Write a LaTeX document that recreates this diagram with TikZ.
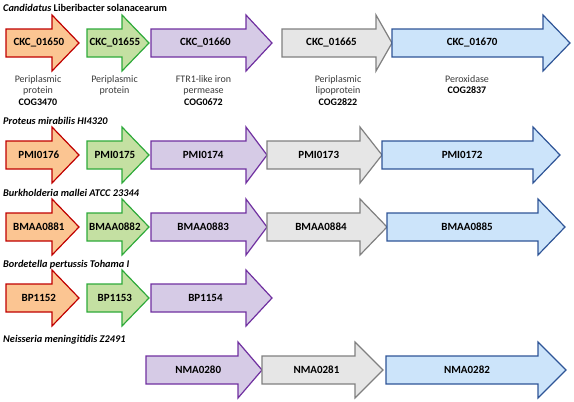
\documentclass[tikz,border=0pt]{standalone}
\usepackage{fontspec}
\setmainfont{Carlito}
\definecolor{orfill}{HTML}{FBC592}
\definecolor{ordraw}{HTML}{C00000}
\definecolor{grfill}{HTML}{C4E0A2}
\definecolor{grdraw}{HTML}{2EAA3A}
\definecolor{pufill}{HTML}{D6CBE6}
\definecolor{pudraw}{HTML}{7030A0}
\definecolor{gyfill}{HTML}{E6E6E6}
\definecolor{gydraw}{HTML}{808080}
\definecolor{blfill}{HTML}{CCE4FA}
\definecolor{bldraw}{HTML}{2F5597}
\definecolor{desc}{HTML}{3A3A3A}
\tikzset{
  garrow/.style={line width=1.2pt, line join=miter},
  orange/.style={garrow, fill=orfill, draw=ordraw},
  green/.style={garrow, fill=grfill, draw=grdraw},
  purple/.style={garrow, fill=pufill, draw=pudraw},
  grey/.style={garrow, fill=gyfill, draw=gydraw},
  blue/.style={garrow, fill=blfill, draw=bldraw},
  genelabel/.style={font=\fontsize{11}{13}\selectfont\bfseries, inner sep=0pt},
  title/.style={font=\fontsize{10.3}{12}\selectfont\bfseries, anchor=west, inner sep=0pt},
  desctext/.style={font=\fontsize{10}{11.8}\selectfont, text=desc, align=center, anchor=north, inner sep=0pt},
}
\newcommand\gene[7]{%
  \draw[#2] ({#3},{#6-14}) -- ({#4},{#6-14}) -- ({#4},{#6-28}) -- ({#5},{#6})
    -- ({#4},{#6+28}) -- ({#4},{#6+14}) -- ({#3},{#6+14}) -- cycle;
  \node[genelabel] (#1) at ({#3+0.45*(#5-#3)},{#6}) {#7};
}
\begin{document}
\begin{tikzpicture}[x=1pt,y=-1pt]
\useasboundingbox (0,0) rectangle (574,402);
% Row 1
\node[title] (t1) at (3,8) {\textit{Candidatus} Liberibacter solanacearum};
\gene{a1}{orange}{6}{52}{79}{43}{CKC\_01650}
\gene{a2}{green}{87}{122}{149}{43}{CKC\_01655}
\gene{a3}{purple}{151}{246}{272}{43}{CKC\_01660}
\gene{a4}{grey}{282}{376}{392}{43}{CKC\_01665}
\gene{a5}{blue}{392}{543}{570}{43}{CKC\_01670}
\node[desctext] (d1) at (38,75) {Periplasmic\\protein\\\textcolor{black}{\bfseries COG3470}};
\node[desctext] (d2) at (114.5,75) {Periplasmic\\protein};
\node[desctext] (d3) at (203.5,75) {FTR1-like iron\\permease\\\textcolor{black}{\bfseries COG0672}};
\node[desctext] (d4) at (338,75) {Periplasmic\\lipoprotein\\\textcolor{black}{\bfseries COG2822}};
\node[desctext] (d5) at (467,75) {Peroxidase\\\textcolor{black}{\bfseries COG2837}};
% Row 2
\node[title] (t2) at (3,121) {\itshape Proteus mirabilis HI4320};
\gene{b1}{orange}{6}{52}{79}{155}{PMI0176}
\gene{b2}{green}{87}{122}{149}{155}{PMI0175}
\gene{b3}{purple}{151}{246}{267}{155}{PMI0174}
\gene{b4}{grey}{267}{360}{382}{155}{PMI0173}
\gene{b5}{blue}{382}{533}{560}{155}{PMI0172}
% Row 3
\node[title] (t3) at (3,193) {\itshape Burkholderia mallei ATCC 23344};
\gene{c1}{orange}{6}{52}{79}{227}{BMAA0881}
\gene{c2}{green}{87}{122}{149}{227}{BMAA0882}
\gene{c3}{purple}{151}{246}{267}{227}{BMAA0883}
\gene{c4}{grey}{267}{360}{387}{227}{BMAA0884}
\gene{c5}{blue}{387}{538}{565}{227}{BMAA0885}
% Row 4
\node[title] (t4) at (3,265) {\itshape Bordetella pertussis Tohama I};
\gene{e1}{orange}{6}{52}{79}{298}{BP1152}
\gene{e2}{green}{87}{122}{149}{298}{BP1153}
\gene{e3}{purple}{151}{246}{272}{298}{BP1154}
% Row 5
\node[title] (t5) at (3,340) {\itshape Neisseria meningitidis Z2491};
\gene{f1}{purple}{146}{238}{262}{370}{NMA0280}
\gene{f2}{grey}{262}{355}{383}{370}{NMA0281}
\gene{f3}{blue}{386}{538}{566}{370}{NMA0282}
\end{tikzpicture}
\end{document}
